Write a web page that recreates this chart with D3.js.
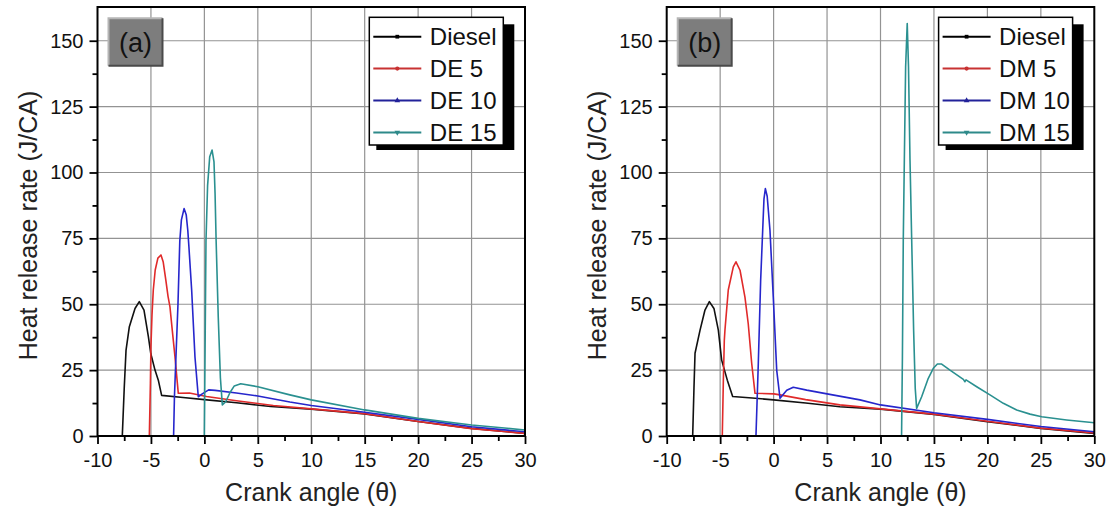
<!DOCTYPE html>
<html>
<head>
<meta charset="utf-8">
<script src="https://cdn.jsdelivr.net/npm/d3@7"></script>
<style>
  html, body { margin: 0; padding: 0; background: #fff; }
  svg { display: block; font-family: "Liberation Sans", Arial, sans-serif; }
</style>
</head>
<body>
<svg id="chart" width="1113" height="511"></svg>
<script>
// ---------- data ----------
const xTicks = [-10, -5, 0, 5, 10, 15, 20, 25, 30];
const xMinor = [-7.5, -2.5, 2.5, 7.5, 12.5, 17.5, 22.5, 27.5];
const yTicks = [0, 25, 50, 75, 100, 125, 150];
const yMinor = [12.5, 37.5, 62.5, 87.5, 112.5, 137.5];

const legendA = ["Diesel", "DE 5", "DE 10", "DE 15"];
const legendB = ["Diesel", "DM 5", "DM 10", "DM 15"];

// Panel (a): [crank angle, heat release rate]
const aDiesel = [[-10,0],[-7.68,0],[-7.5,18],[-7.33,32.6],[-7.02,41.5],[-6.49,48.4],[-6.09,51],[-5.65,47.8],[-5.24,37.7],[-5.02,31.4],[-4.62,25],[-4.31,21.2],[-4.0,15.4],[-2,14.6],[0,13.8],[3,12.6],[6.2,11.2],[10,10.2],[15,8.4],[20,5.5],[25,2.9],[30,1.0]];
const aDE5 = [[-10,0],[-5.15,0],[-5.05,20],[-5.0,34],[-4.9,46],[-4.78,55.4],[-4.6,63],[-4.35,67.5],[-4.06,68.7],[-3.85,66],[-3.6,59],[-3.4,53],[-3.22,49],[-3.0,40],[-2.75,30],[-2.55,21],[-2.44,16.2],[-1.4,16.3],[0.2,15],[3,13.4],[6.45,11.6],[10,10.3],[15,8.5],[20,5.5],[25,2.8],[30,1.0]];
const aDE10 = [[-10,0],[-2.88,0],[-2.8,15],[-2.66,30],[-2.47,50],[-2.3,74],[-2.15,82],[-1.9,86.3],[-1.7,84],[-1.55,78],[-1.45,72],[-1.19,55.4],[-0.88,30],[-0.57,14.9],[-0.2,16],[0.4,17.5],[1,17.3],[3,16.3],[5,15.2],[8,12.9],[10,11.6],[15,9.0],[20,6.3],[25,3.5],[30,1.6]];
const aDE15 = [[-10,0],[0.0,0],[0.08,40],[0.15,74],[0.3,95],[0.5,106],[0.72,108.5],[0.9,104],[1.0,92],[1.1,74],[1.3,45],[1.5,22],[1.68,11.8],[2.0,13],[2.4,16.5],[2.8,19],[3.4,19.8],[5,18.7],[8,15.6],[10,13.7],[15,9.9],[20,6.7],[25,4.2],[30,2.3]];

// Panel (b)
const bDiesel = [[-10,0],[-7.57,0],[-7.45,18],[-7.35,31.4],[-6.88,40.2],[-6.42,47.8],[-6.01,51],[-5.58,48.4],[-5.17,40.2],[-4.86,28.8],[-4.33,21.2],[-3.83,15.0],[-2,14.4],[0,13.7],[3,12.5],[6.2,11.1],[10,10.2],[15,8.2],[20,5.4],[25,2.9],[30,1.0]];
const bDM5 = [[-10,0],[-4.8,0],[-4.7,21.2],[-4.61,36.4],[-4.55,40.2],[-4.24,55.4],[-3.77,64.2],[-3.52,66.1],[-3.14,62.9],[-2.68,52.7],[-2.37,42.5],[-2.05,27.6],[-1.74,16.2],[0.03,16.0],[0.6,15.6],[3,13.8],[6.2,11.8],[10,10.3],[15,8.3],[20,5.6],[25,3.0],[30,1.2]];
const bDM10 = [[-10,0],[-1.65,0],[-1.43,27.6],[-1.21,59.2],[-1.02,78.1],[-0.9,90],[-0.77,93.9],[-0.6,91],[-0.34,78.1],[-0.03,52.7],[0.29,25],[0.6,14.3],[1.23,17.4],[1.84,18.5],[3.1,17.4],[5,16.0],[8.08,13.7],[10,11.8],[15,8.8],[20,6.3],[25,3.6],[30,1.6]];
const bDM15 = [[-10,0],[11.97,0],[12.05,30],[12.13,74],[12.23,104.7],[12.35,140],[12.5,156.5],[12.62,140],[12.76,104.7],[12.92,74],[13.1,40],[13.25,18],[13.38,10.5],[13.85,14.9],[14.47,21.9],[14.94,25.7],[15.32,27.3],[15.72,27.3],[16.5,25],[17.75,21.5],[17.9,20.6],[18.0,21.3],[19.0,18.7],[20.24,15.6],[21.49,12.4],[22.74,9.9],[23.99,8.3],[25.08,7.3],[27.41,6.1],[30,5.0]];

const seriesColors = ["#111111", "#e02a2a", "#2626cc", "#2a9090"];
const legendColors = ["#000000", "#c83232", "#22229a", "#2e8a8a"];

// ---------- drawing ----------
const svg = d3.select("#chart");
const TOP = 7, BOTTOM = 436;
const fmt = d => String(d);   // plain hyphen-minus like the original

function drawPanel(cfg) {
  const x = d3.scaleLinear().domain([-10, 30]).range([cfg.left, cfg.right]);
  const y = d3.scaleLinear().domain([0, 162.8]).range([BOTTOM, TOP]);
  const g = svg.append("g");

  // grid
  g.append("g").selectAll("line.vg").data(xTicks.filter(d => d > -10 && d < 30)).join("line")
    .attr("x1", d => x(d)).attr("x2", d => x(d)).attr("y1", TOP).attr("y2", BOTTOM)
    .attr("stroke", "#939393").attr("stroke-width", 1.2);
  g.append("g").selectAll("line.hg").data(yTicks.filter(d => d > 0)).join("line")
    .attr("x1", cfg.left).attr("x2", cfg.right).attr("y1", d => y(d)).attr("y2", d => y(d))
    .attr("stroke", "#939393").attr("stroke-width", 1.2);

  // series
  const line = d3.line().x(d => x(d[0])).y(d => y(d[1]));
  cfg.series.forEach((s, i) => {
    g.append("path").datum(s).attr("d", line).attr("fill", "none")
      .attr("stroke", seriesColors[i]).attr("stroke-width", 1.6).attr("stroke-linejoin", "round");
  });

  // axes
  const xAxis = d3.axisBottom(x).tickValues(xTicks).tickSize(8).tickPadding(9).tickFormat(fmt);
  const xAxisMinor = d3.axisBottom(x).tickValues(xMinor).tickSize(5).tickFormat("");
  const yAxis = d3.axisLeft(y).tickValues(yTicks).tickSize(8).tickPadding(6).tickFormat(fmt);
  const yAxisMinor = d3.axisLeft(y).tickValues(yMinor).tickSize(5).tickFormat("");

  const gx = g.append("g").attr("transform", `translate(0,${BOTTOM})`).call(xAxis);
  g.append("g").attr("transform", `translate(0,${BOTTOM})`).call(xAxisMinor).select(".domain").remove();
  const gy = g.append("g").attr("transform", `translate(${cfg.left},0)`).call(yAxis);
  g.append("g").attr("transform", `translate(${cfg.left},0)`).call(yAxisMinor).select(".domain").remove();
  [gx, gy].forEach(a => {
    a.select(".domain").remove();
    a.selectAll("text").attr("font-size", 20).attr("fill", "#111").attr("font-family", "'Liberation Sans', Arial, sans-serif");
  });
  g.selectAll(".tick line").attr("stroke", "#000").attr("stroke-width", 1.8);

  // frame
  g.append("rect").attr("x", cfg.left).attr("y", TOP).attr("width", cfg.right - cfg.left).attr("height", BOTTOM - TOP)
    .attr("fill", "none").attr("stroke", "#000").attr("stroke-width", 2);

  // axis titles
  g.append("text").attr("x", (cfg.left + cfg.right) / 2).attr("y", 501)
    .attr("text-anchor", "middle").attr("font-size", 25).attr("fill", "#222")
    .text("Crank angle (\u03B8)");
  g.append("text").attr("transform", `translate(${cfg.left - 61},${(TOP + BOTTOM) / 2 + 4}) rotate(-90)`)
    .attr("text-anchor", "middle").attr("font-size", 25).attr("fill", "#222")
    .text("Heat release rate (J/CA)");

  // panel label box
  const lb = { x: cfg.left + 11, y: 18.3, w: 54, h: 47.4 };
  g.append("rect").attr("x", lb.x).attr("y", lb.y).attr("width", lb.w).attr("height", lb.h).attr("fill", "#7d7d7d");
  g.append("path").attr("d", `M${lb.x},${lb.y + lb.h}V${lb.y}H${lb.x + lb.w}`).attr("fill", "none").attr("stroke", "#b5b5b5").attr("stroke-width", 2);
  g.append("path").attr("d", `M${lb.x + lb.w},${lb.y}V${lb.y + lb.h}H${lb.x}`).attr("fill", "none").attr("stroke", "#4a4a4a").attr("stroke-width", 2);
  g.append("text").attr("x", lb.x + lb.w / 2).attr("y", lb.y + lb.h / 2 + 9.5).attr("text-anchor", "middle")
    .attr("font-size", 27).attr("fill", "#111").text(cfg.label);

  // legend
  const L = { x: cfg.right - 155.7, y: 17.3, w: 134, h: 127.7 };
  g.append("rect").attr("x", L.x + 7).attr("y", L.y + 7).attr("width", L.w + 4).attr("height", L.h - 2).attr("fill", "#000");
  g.append("rect").attr("x", L.x).attr("y", L.y).attr("width", L.w).attr("height", L.h)
    .attr("fill", "#fff").attr("stroke", "#000").attr("stroke-width", 1.5);
  const symbols = [d3.symbolSquare, d3.symbolCircle, d3.symbolTriangle, d3.symbolTriangle];
  cfg.legend.forEach((name, i) => {
    const cy = 36.7 + i * 31.9;
    g.append("line").attr("x1", L.x + 4).attr("x2", L.x + 52).attr("y1", cy).attr("y2", cy)
      .attr("stroke", legendColors[i]).attr("stroke-width", 2);
    g.append("path").attr("d", d3.symbol().type(symbols[i]).size(14))
      .attr("transform", `translate(${L.x + 28},${cy}) rotate(${i === 3 ? 180 : 0})`)
      .attr("fill", legendColors[i]);
    g.append("text").attr("x", L.x + 60.5).attr("y", cy + 8.5).attr("font-size", 24).attr("fill", "#111").text(name);
  });
}

drawPanel({ left: 97.5, right: 525, label: "(a)", legend: legendA, series: [aDiesel, aDE5, aDE10, aDE15] });
drawPanel({ left: 666.7, right: 1094.3, label: "(b)", legend: legendB, series: [bDiesel, bDM5, bDM10, bDM15] });
</script>
</body>
</html>
